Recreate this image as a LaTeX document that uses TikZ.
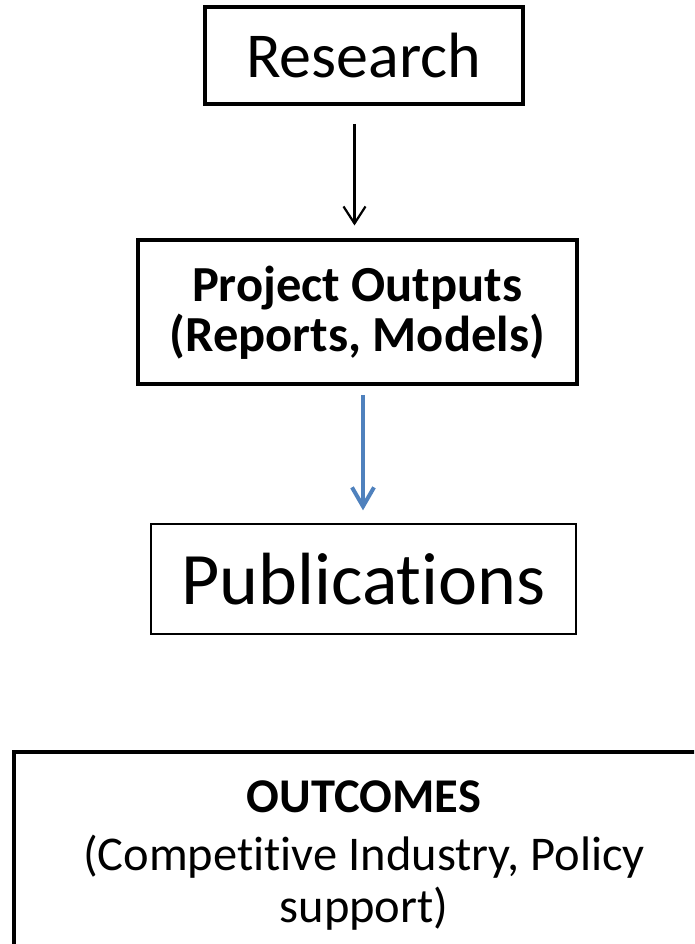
\documentclass[tikz,border=0pt]{standalone}
\usepackage{fontspec}
\setmainfont{Carlito}[Ligatures=NoCommon]
\usetikzlibrary{arrows.meta}
\definecolor{officeblue}{HTML}{4F81BD}
\tikzset{
  thickbox/.style={draw=black, line width=4pt, inner sep=0pt, align=center},
  thinbox/.style={draw=black, line width=1.8pt, inner sep=0pt, align=center},
  blackarrow/.style={draw=black, line width=2.2pt, -{Straight Barb[length=17pt,width=22pt,line width=2.2pt]}},
  bluearrow/.style={draw=officeblue, line width=4pt, -{Straight Barb[length=19pt,width=22pt,line width=4pt]}},
}
\begin{document}
\begin{tikzpicture}[x=1pt,y=1pt]
\useasboundingbox (0,0) rectangle (694,944);
\clip (0,0) rectangle (694,944);
\node[thickbox, minimum width=317.5pt, minimum height=97pt, font=\fontsize{64}{66}\selectfont] (research) at (363.75,888) {Research};
\node[thickbox, minimum width=439.5pt, minimum height=144pt, font=\fontsize{50.5}{50}\selectfont\bfseries] (outputs) at (357.25,631.5) {Project Outputs\\(Reports, Models)};
\node[thinbox, minimum width=425pt, minimum height=109.5pt, font=\fontsize{74}{76}\selectfont] (pubs) at (363.5,365) {Publications};
\node[thickbox, minimum width=700pt, minimum height=208pt, font=\fontsize{48.5}{52}\selectfont] (outcomes) at (364,88) {\textbf{OUTCOMES}\\[6pt](Competitive Industry, Policy\\support)};
\coordinate (a1s) at (354.5,820);
\coordinate (a2s) at (363,549);
\draw[blackarrow] (a1s) -- ([yshift=13pt]outputs.north -| a1s);
\draw[bluearrow] (a2s) -- ([yshift=13pt]pubs.north -| a2s);
\end{tikzpicture}
\end{document}
